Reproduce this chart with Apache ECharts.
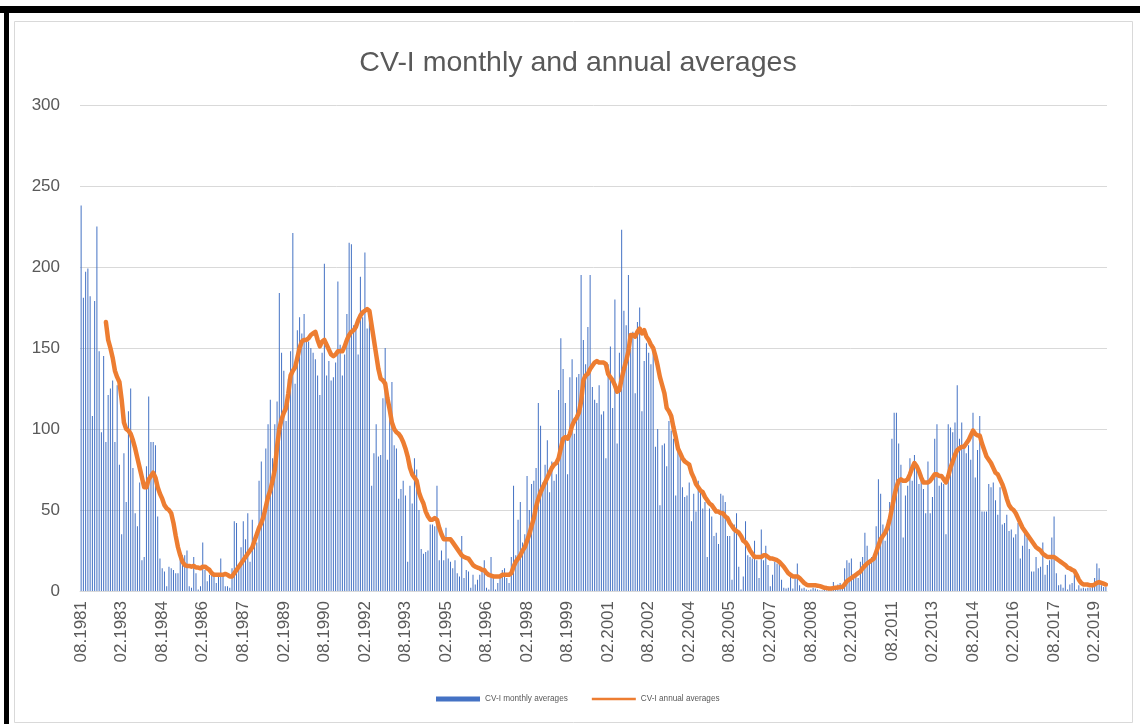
<!DOCTYPE html>
<html><head><meta charset="utf-8">
<script src="https://cdn.jsdelivr.net/npm/echarts@6/dist/echarts.min.js"></script>
<style>html,body{margin:0;padding:0;background:#fff}#c{width:1140px;height:724px}</style>
</head><body><div id="c"></div>
<script>
// Categories: monthly, 08.1981 .. 07.2019
const firstMonth = 8, firstYear = 1981, monthCount = 456;
const categories = [];
for (let i = 0; i < monthCount; i++) {
  const m = (firstMonth - 1 + i) % 12 + 1;
  const y = firstYear + Math.floor((firstMonth - 1 + i) / 12);
  categories.push((m < 10 ? '0' : '') + m + '.' + y);
}
const seriesNames = ['CV-I monthly averages', 'CV-I annual averages'];
const yMin = 0, yMax = 300, yStep = 50;

const monthly = [
238,181,197,199,182,108,179,225,148,98,
145,92,121,125,130,92,127,78,35,85,
55,111,125,76,48,40,67,19,21,77,
120,92,92,90,46,20,14,12,3,15,
14,13,11,11,22,22,22,25,3,2,
21,11,1,3,30,13,6,10,11,11,
5,10,20,10,3,3,2,14,43,42,
14,27,43,32,48,18,44,30,30,68,
80,45,88,103,118,82,103,117,184,147,
136,105,131,148,221,128,161,169,159,171,
154,154,150,147,143,133,121,147,202,133,
142,130,132,141,191,152,133,146,171,215,
214,164,164,146,194,169,209,162,170,65,
85,103,83,84,119,150,81,106,129,90,
88,57,63,68,59,18,65,54,82,75,
50,26,23,24,25,41,41,40,65,19,
25,19,39,20,18,14,19,11,9,34,
8,13,12,2,10,4,7,10,12,19,
2,1,21,10,1,5,9,13,14,8,
5,21,65,22,44,55,30,35,71,50,
66,68,76,116,102,67,78,93,61,80,
68,72,124,156,137,116,72,132,143,97,
132,134,195,155,140,163,195,126,118,116,
127,109,111,82,140,151,113,180,91,147,
223,173,164,195,150,160,122,166,175,111,
142,153,147,140,152,89,100,53,90,91,
77,105,99,94,59,90,85,64,58,59,
67,43,60,49,68,62,51,55,21,51,
46,34,36,29,60,59,55,34,34,7,
41,48,15,1,9,43,22,21,20,31,
19,8,38,19,28,16,3,10,18,17,
17,7,2,1.5,2,9,1.5,10,17,3.5,
1.5,2,1,0.5,1,2,1.5,1,0.5,0.5,
1,0.5,1,1.5,5.5,2.5,4,5,3.5,14,
19,17.5,20,7.5,10,8,18,21,36,28,
18,21,20,40,69,60,41,31,44,55,
94,110,110,91,78,33,59,65,82,68,
84,78,66,71,63,48,80,48,58,94,
103,65,67,66,35,103,101,98,104,127,
94,104,90,85,90,81,110,70,87,108,
49,49,49,66,64,67,56,47,64,41,
42,47,37,38,33,35,42,20,28,37,
33,26,12,12,21,14,15,30,10,16,
19,33,46,11,3.5,4,2,10,1,4,
5,10,1,3.5,1.5,2,1.5,2,2,2.5,
8,17,14,3.5,2.5,2.5
];

const annual = [
null,null,null,null,null,null,null,null,null,null,
null,166,155,150,144,136,132,129,118,104,
100,99,97,93,88,82,76,70,64,64,
69,71,73,70,64,60,57,53,51,50,
48,42,34,27,22,18,16,15.5,15.5,15,
15.5,14.5,14.5,14,15,15,14,13,11,10,
10,10,10,10,10.5,10,9,9,11,13,
15,17,19,21,23,25,27,31,35,39,
42,46,52,58,62,68,75,89,100,106,
110,113,122,133,136,138,144,150,154,155,
155,156,158,159,160,155,151,154,155,152,
149,146,145,146,148,148,148,151,155,158,
160,161,163,167,170,172,173,174,173,164,
155,146,137,131,130,128,119,112,104,100,
98,97,95,92,88,83,76,72,70,68,
61,57,54,49,46,44,44,45,44,39,
35,32,32,32,32,30,28,26,24,22,
21,20.5,20,18,16,15,14.5,14,13,13,
11,10,9.5,9,9,9,9,10,10,10,
10,11,15,18,20,22,25,27,31,35,
40,45,52,57,61,64,67,70,73,76,
78,79,82,88,94,95,94,97,102,105,
107,110,117,130,133,134,137,139,141,142,
141,141,141,140,134,132,130,127,123,124,
131,137,142,148,158,158,157,160,162,159,
161,157,155,152,150,145,139,132,127,122,
113,111,108,101,95,88,85,82,80,79,
78,73,70,66,64,62,61,58,56,54,
53,51,49,49,48,48,46,45,42,40,
38,37,36,34,31,30,28,25,23,21,
21,21,21,22,22,21,20,20,19.5,19,
18,16.5,15,13,11,10,9,9,9,8,
6.5,5,4,3.5,3.5,3.5,3.5,3.3,3,2.5,
2,1.8,1.5,1.5,1.8,2,2.2,2.4,2.5,4,
6,7,8,9,10,11,12,14,15.5,17,
18,19,20,24,28,32,34,36,39,44,
51,58,64,68,69,68,68,69,72,76,
79,77,74,70,67,67,67,68,70,72,
72,71,71,69,67,71,76,80,84,87,
88,89,89,91,93,96,99,97,96,96,
91,87,83,81,79,76,73,72,69,66,
62,57,53,51,50,48,45,42,39,37,
35,33,31,29,27,26,25,23,22,21,
21,21,21,20,19,18,17,16,14.5,14,
13,12.5,10,7,5,4,4,4,3.5,3.5,
4,5,5.5,5,4.5,4
];

const chart = echarts.init(document.getElementById('c'), null, {renderer: 'canvas'});
chart.setOption({
  animation: false,
  backgroundColor: '#ffffff',
  title: {
    text: 'CV-I monthly and annual averages',
    left: 573, textAlign: 'center', top: 44,
    textStyle: {fontFamily: 'Liberation Sans', fontSize: 28.5, fontWeight: 'normal', color: '#595959'}
  },
  graphic: [
    {type: 'rect', shape: {x: 0, y: 6, width: 1140, height: 7}, style: {fill: '#000'}},
    {type: 'rect', shape: {x: 4, y: 6, width: 5, height: 718}, style: {fill: '#000'}},
    {type: 'rect', shape: {x: 14.5, y: 21.5, width: 1118, height: 701}, style: {fill: 'none', stroke: '#d9d9d9', lineWidth: 1}}
  ],
  legend: {
    data: [
      {name: seriesNames[0], icon: 'rect'},
      {name: seriesNames[1], icon: 'path://M0,0L44,0L44,2.6L0,2.6Z', itemStyle: {color: '#ED7D31'}}
    ],
    left: 431, top: 690,
    itemWidth: 44, itemHeight: 5, itemGap: 24,
    textStyle: {fontFamily: 'Liberation Sans', fontSize: 8.2, color: '#595959'}
  },
  grid: {left: 80, right: 33, top: 105, bottom: 133, containLabel: false},
  xAxis: {
    type: 'category', data: categories, boundaryGap: true,
    axisLine: {lineStyle: {color: '#d9d9d9', width: 1}},
    axisTick: {show: false},
    axisLabel: {interval: 17, rotate: 90, margin: 10, color: '#595959', fontFamily: 'Liberation Sans', fontSize: 17}
  },
  yAxis: {
    type: 'value', min: yMin, max: yMax, interval: yStep,
    axisLine: {show: false}, axisTick: {show: false},
    splitLine: {lineStyle: {color: '#d9d9d9', width: 1}},
    axisLabel: {margin: 20, color: '#595959', fontFamily: 'Liberation Sans', fontSize: 17}
  },
  series: [
    {
      name: seriesNames[0], type: 'bar', data: monthly,
      barWidth: 1, itemStyle: {color: '#4472C4'}
    },
    {
      name: seriesNames[1], type: 'line', data: annual,
      showSymbol: false, symbol: 'none', connectNulls: false,
      lineStyle: {color: '#ED7D31', width: 4.5, cap: 'round', join: 'round'},
      itemStyle: {color: '#ED7D31'}
    }
  ]
});
</script>
</body></html>
